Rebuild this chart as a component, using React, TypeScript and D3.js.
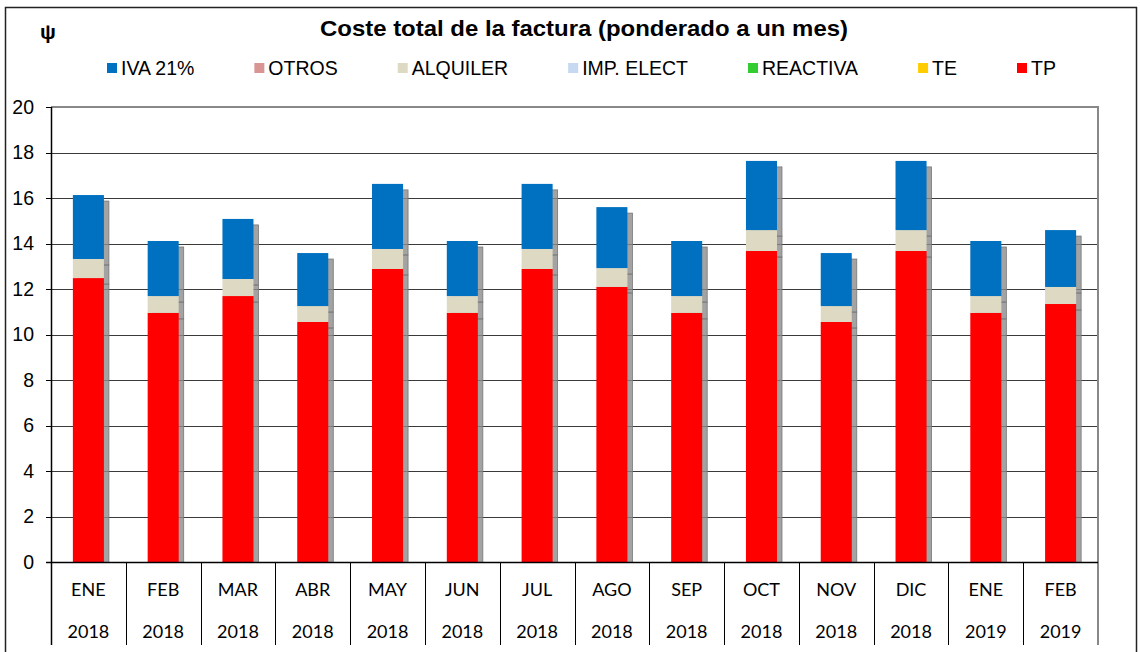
import React, { useEffect, useRef } from 'react';
import * as d3 from 'd3';

const months = ['ENE', 'FEB', 'MAR', 'ABR', 'MAY', 'JUN', 'JUL', 'AGO', 'SEP', 'OCT', 'NOV', 'DIC', 'ENE', 'FEB'];
const years = ['2018', '2018', '2018', '2018', '2018', '2018', '2018', '2018', '2018', '2018', '2018', '2018', '2019', '2019'];

// stacked bottom -> top
const tp = [12.48, 10.95, 11.69, 10.55, 12.88, 10.95, 12.88, 12.09, 10.95, 13.67, 10.55, 13.67, 10.95, 11.34];
const te = [0, 0, 0, 0, 0, 0, 0, 0, 0, 0, 0, 0, 0, 0];
const reactiva = [0, 0, 0, 0, 0, 0, 0, 0, 0, 0, 0, 0, 0, 0];
const impElect = [0, 0, 0, 0, 0, 0, 0, 0, 0, 0, 0, 0, 0, 0];
const alquiler = [0.84, 0.74, 0.75, 0.70, 0.88, 0.74, 0.88, 0.83, 0.74, 0.92, 0.70, 0.92, 0.74, 0.75];
const otros = [0, 0, 0, 0, 0, 0, 0, 0, 0, 0, 0, 0, 0, 0];
const iva = [2.81, 2.42, 2.64, 2.33, 2.86, 2.42, 2.86, 2.68, 2.42, 3.04, 2.33, 3.04, 2.42, 2.50];

const seriesNames = ['TP', 'TE', 'REACTIVA', 'IMP. ELECT', 'ALQUILER', 'OTROS', 'IVA 21%'];
const seriesValues = [tp, te, reactiva, impElect, alquiler, otros, iva];
const seriesColors = ['#FF0000', '#FFCC00', '#33CC33', '#C6D9F1', '#DDD9C3', '#D99594', '#0070C0'];

const yTicks = [0, 2, 4, 6, 8, 10, 12, 14, 16, 18, 20];

const App = () => {
  const svgRef = useRef<SVGSVGElement>(null);

  useEffect(() => {
    const svg = d3.select(svgRef.current);
    svg.selectAll('*').remove();

    const width = 1140;
    const height = 652;
    const left = 51, right = 1098, top = 107, bottom = 562;
    const font = '"Liberation Sans", Arial, sans-serif';

    svg.attr('width', width).attr('height', height);
    svg.append('rect').attr('width', width).attr('height', height).attr('fill', '#fff');

    // outer frame
    svg.append('rect')
      .attr('x', 5.5).attr('y', 7.5)
      .attr('width', 1131).attr('height', 700)
      .attr('fill', 'none').attr('stroke', '#222').attr('stroke-width', 1.5);

    const keys = months.map((m, i) => `${m} ${years[i]}`);
    const x = d3.scaleBand().domain(keys).range([left, right]).paddingInner(0.585).paddingOuter(0.2925);
    const y = d3.scaleLinear().domain([0, 20]).range([bottom, top]);

    // title
    svg.append('text')
      .attr('x', 320).attr('y', 36)
      .attr('textLength', 528).attr('lengthAdjust', 'spacingAndGlyphs')
      .style('font-family', font).style('font-weight', 'bold').style('font-size', '22px')
      .text('Coste total de la factura (ponderado a un mes)');

    svg.append('text')
      .attr('x', 48).attr('y', 39)
      .attr('text-anchor', 'middle')
      .style('font-family', font).style('font-weight', 'bold').style('font-size', '21px')
      .text('ψ');

    // legend (reverse of stack order)
    const legend = svg.append('g');
    let lx = 107;
    seriesNames.map((n, i) => ({ n, c: seriesColors[i] })).reverse().forEach(d => {
      legend.append('rect')
        .attr('x', lx).attr('y', 63).attr('width', 10).attr('height', 10)
        .attr('fill', d.c);
      const t = legend.append('text')
        .attr('x', lx + 14).attr('y', 75)
        .style('font-family', font).style('font-size', '19.5px')
        .text(d.n);
      const w = (t.node() as SVGTextElement).getComputedTextLength();
      lx += 14 + w + 60;
    });

    // gridlines
    svg.append('g').selectAll('line')
      .data(yTicks.filter(t => t > 0 && t < 20))
      .enter().append('line')
      .attr('x1', left).attr('x2', right)
      .attr('y1', d => Math.round(y(d)) + 0.5).attr('y2', d => Math.round(y(d)) + 0.5)
      .attr('stroke', '#3a3a3a').attr('stroke-width', 1);

    // stacked data
    const rows = keys.map((k, i) => {
      const r: any = { key: k };
      seriesNames.forEach((n, j) => { r[n] = seriesValues[j][i]; });
      return r;
    });
    const stack = d3.stack().keys(seriesNames)(rows);

    // shadows
    const clip = svg.append('clipPath').attr('id', 'plotclip');
    clip.append('rect').attr('x', left).attr('y', top).attr('width', right - left).attr('height', bottom - top);
    const shadowG = svg.append('g').attr('clip-path', 'url(#plotclip)');
    stack.forEach(layer => {
      shadowG.selectAll(null)
        .data(layer.filter(d => d[1] - d[0] > 0))
        .enter().append('rect')
        .attr('x', d => (x(d.data.key as string) as number) + 5)
        .attr('y', d => y(d[1]) + 6)
        .attr('width', x.bandwidth())
        .attr('height', d => y(d[0]) - y(d[1]))
        .attr('fill', '#8c8c8c').attr('fill-opacity', 0.8)
        .attr('stroke', '#777').attr('stroke-width', 0.8);
    });

    // bars
    stack.forEach((layer, j) => {
      svg.append('g').selectAll('rect')
        .data(layer.filter(d => d[1] - d[0] > 0))
        .enter().append('rect')
        .attr('x', d => x(d.data.key as string) as number)
        .attr('y', d => y(d[1]))
        .attr('width', x.bandwidth())
        .attr('height', d => y(d[0]) - y(d[1]))
        .attr('fill', seriesColors[j]);
    });

    // plot top & right borders
    svg.append('line').attr('x1', left).attr('x2', right + 1).attr('y1', top).attr('y2', top)
      .attr('stroke', '#888').attr('stroke-width', 2);
    svg.append('line').attr('x1', right).attr('x2', right).attr('y1', top).attr('y2', 645)
      .attr('stroke', '#888').attr('stroke-width', 2);

    // y axis
    const yAxis = svg.append('g');
    yAxis.append('line').attr('x1', left + 0.5).attr('x2', left + 0.5).attr('y1', top).attr('y2', 645)
      .attr('stroke', '#000').attr('stroke-width', 1.5);
    yAxis.selectAll('.tick').data(yTicks).enter().append('line')
      .attr('x1', left - 5).attr('x2', left)
      .attr('y1', d => Math.round(y(d)) + 0.5).attr('y2', d => Math.round(y(d)) + 0.5)
      .attr('stroke', '#000');
    yAxis.selectAll('text').data(yTicks).enter().append('text')
      .attr('x', 34).attr('y', d => y(d) + 6.5)
      .attr('text-anchor', 'end')
      .style('font-family', font).style('font-size', '19.5px')
      .text(d => d);

    // x axis table
    svg.append('line').attr('x1', left - 5).attr('x2', right).attr('y1', bottom + 0.5).attr('y2', bottom + 0.5)
      .attr('stroke', '#000').attr('stroke-width', 1.5);
    const step = x.step();
    const bounds = d3.range(1, keys.length).map(i => left + i * step);
    svg.append('g').selectAll('line').data(bounds).enter().append('line')
      .attr('x1', d => Math.round(d) + 0.5).attr('x2', d => Math.round(d) + 0.5)
      .attr('y1', bottom).attr('y2', 645)
      .attr('stroke', '#000').attr('stroke-width', 1);
    const xl = svg.append('g')
      .style('font-family', 'Lato, "Open Sans", sans-serif').style('font-size', '18px')
      .attr('text-anchor', 'middle');
    keys.forEach((k, i) => {
      const cx = left + step * (i + 0.5);
      xl.append('text').attr('x', cx).attr('y', 596).text(months[i]);
      xl.append('text').attr('x', cx).attr('y', 638).text(years[i]);
    });
  }, []);

  return <svg ref={svgRef} style={{ position: 'absolute', left: 0, top: 0 }}></svg>;
};

export default App;
